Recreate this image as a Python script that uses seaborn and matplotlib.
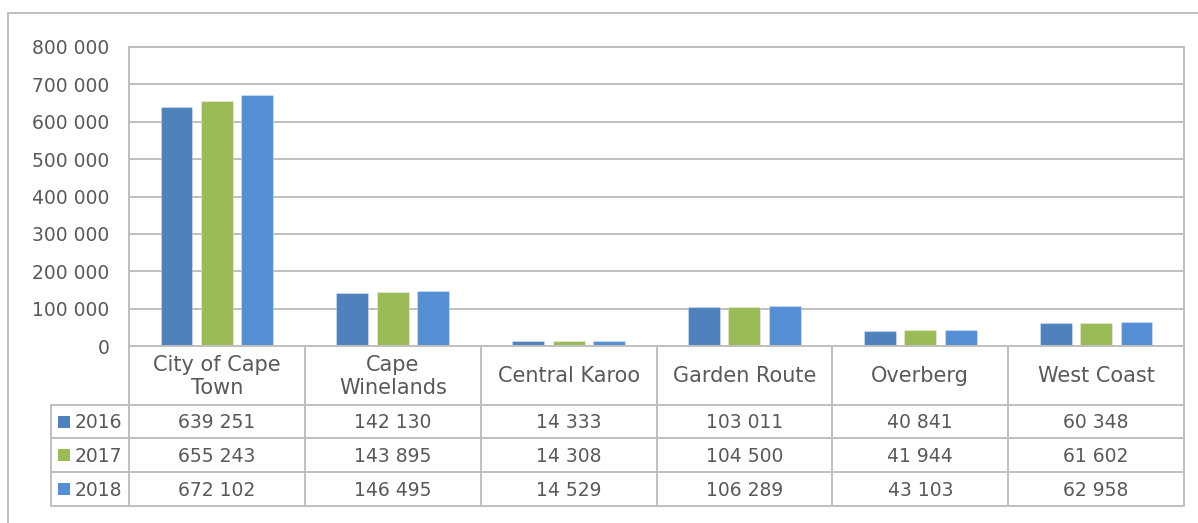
import numpy as np
import pandas as pd
import matplotlib
matplotlib.use("Agg")
import matplotlib.pyplot as plt
from matplotlib.patches import Rectangle
import seaborn as sns

# %% data
regions = ["City of Cape\nTown", "Cape\nWinelands", "Central Karoo",
           "Garden Route", "Overberg", "West Coast"]
years = ["2016", "2017", "2018"]
v2016 = [639251, 142130, 14333, 103011, 40841, 60348]
v2017 = [655243, 143895, 14308, 104500, 41944, 61602]
v2018 = [672102, 146495, 14529, 106289, 43103, 62958]
yticks = [0, 100000, 200000, 300000, 400000, 500000, 600000, 700000, 800000]
colors = ["#4F81BD", "#9BBB59", "#558ED5"]

df = pd.DataFrame({
    "region": regions * 3,
    "year": np.repeat(years, len(regions)),
    "value": v2016 + v2017 + v2018,
})

def fmt(v):
    return f"{v:,}".replace(",", " ")

# %% figure
sns.set_theme(style="white")
plt.rcParams["font.family"] = ["DejaVu Sans"]
txt = "#595959"
grid = "#BFBFBF"

W, H = 1198, 523
fig = plt.figure(figsize=(W / 100, H / 100), dpi=100)
fig.patch.set_facecolor("white")
L, R, T, B = 129, 1184, 47, 346

ax = fig.add_axes([L / W, 1 - B / H, (R - L) / W, (B - T) / H])
sns.barplot(data=df, x="region", y="value", hue="year", palette=colors,
            saturation=1, width=0.69, gap=0.21, legend=False, ax=ax)
ax.set_xlim(-0.5, len(regions) - 0.5)
ax.set_ylim(0, 800000)
ax.set_yticks(yticks)
ax.set_yticklabels([fmt(v) for v in yticks], fontsize=13.5, color=txt)
ax.tick_params(axis="y", length=0, pad=14)
ax.tick_params(axis="x", length=0, labelbottom=False)
ax.set_xlabel("")
ax.set_ylabel("")
ax.yaxis.grid(True, color=grid, lw=1.4)
ax.set_axisbelow(True)
for s in ax.spines.values():
    s.set_color(grid)
    s.set_linewidth(1.4)
for p in ax.patches:
    p.set_edgecolor((1, 1, 1, 0.3))
    p.set_linewidth(0.8)

# %% data table below the chart
ov = fig.add_axes([0, 0, 1, 1])
ov.set_xlim(0, W)
ov.set_ylim(H, 0)
ov.axis("off")

# outer chart border
ov.plot([8, W], [13, 13], color=grid, lw=1.4)
ov.plot([8, 8], [13, H], color=grid, lw=1.4)

cols = np.linspace(L, R, len(regions) + 1)
rows = [B, 405, 438, 472, 506]
x0 = 51
for y in rows[1:]:
    ov.plot([x0, R], [y, y], color=grid, lw=1.4)
for x in cols:
    ov.plot([x, x], [B, rows[-1]], color=grid, lw=1.4)
ov.plot([x0, x0], [rows[1], rows[-1]], color=grid, lw=1.4)

for i, name in enumerate(regions):
    cx = (cols[i] + cols[i + 1]) / 2
    ov.text(cx, (rows[0] + rows[1]) / 2 + 1, name, ha="center", va="center",
            fontsize=15, color=txt, linespacing=1.2)

for j, (yr, vals) in enumerate(zip(years, [v2016, v2017, v2018])):
    cy = (rows[j + 1] + rows[j + 2]) / 2
    ov.add_patch(Rectangle((58, cy - 6), 12, 12, color=colors[j], lw=0))
    ov.text(75, cy + 1, yr, ha="left", va="center", fontsize=13.5, color=txt)
    for i, v in enumerate(vals):
        cx = (cols[i] + cols[i + 1]) / 2
        ov.text(cx, cy + 1, fmt(v), ha="center", va="center",
                fontsize=13.5, color=txt)

fig.savefig("out.png", dpi=100)
